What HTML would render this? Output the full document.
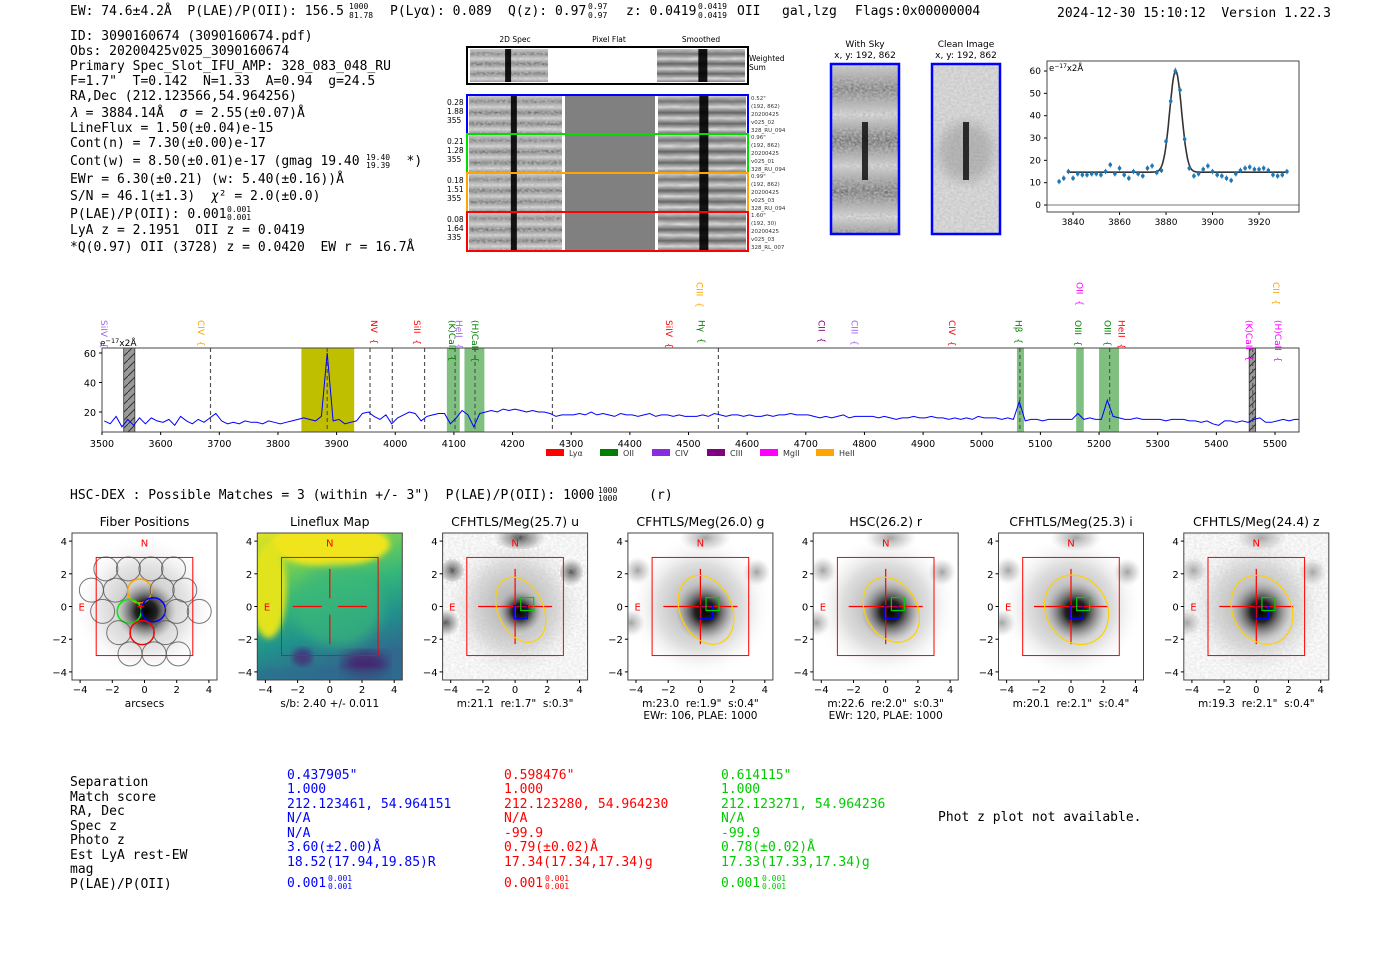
<!DOCTYPE html>
<html><head><meta charset="utf-8"><style>
html,body{margin:0;padding:0;background:#fff;}
svg{display:block;}
.m{font-family:"DejaVu Sans Mono","Liberation Mono",monospace;white-space:pre;}
.s{font-family:"DejaVu Sans","Liberation Sans",sans-serif;}
</style></head><body>
<svg id="fig" xmlns="http://www.w3.org/2000/svg" width="1400" height="953" viewBox="0 0 1400 953">
<defs>
<filter id="noise" x="0" y="0" width="100%" height="100%"><feTurbulence type="fractalNoise" baseFrequency="0.35 0.5" numOctaves="2" seed="3"/><feColorMatrix type="matrix" values="0 0 0 0 0.5  0 0 0 0 0.5  0 0 0 0 0.5  1.6 0 0 0 -0.35"/></filter>
<filter id="noise2" x="0" y="0" width="100%" height="100%"><feTurbulence type="fractalNoise" baseFrequency="0.08 0.25" numOctaves="2" seed="7"/><feColorMatrix type="matrix" values="0 0 0 0 0.1  0 0 0 0 0.1  0 0 0 0 0.1  1.4 0 0 0 -0.3"/></filter>
<filter id="blur3"><feGaussianBlur stdDeviation="3"/></filter>
<filter id="blur6"><feGaussianBlur stdDeviation="6"/></filter>
<radialGradient id="halo"><stop offset="0" stop-color="#888"/><stop offset="0.6" stop-color="#d4d4d4"/><stop offset="1" stop-color="#fff" stop-opacity="0"/></radialGradient>
<radialGradient id="core"><stop offset="0" stop-color="#000"/><stop offset="0.35" stop-color="#222"/><stop offset="0.7" stop-color="#777" stop-opacity="0.6"/><stop offset="1" stop-color="#aaa" stop-opacity="0"/></radialGradient>
<radialGradient id="nb"><stop offset="0" stop-color="#333"/><stop offset="0.6" stop-color="#888" stop-opacity="0.6"/><stop offset="1" stop-color="#bbb" stop-opacity="0"/></radialGradient>
<linearGradient id="bands" x1="0" y1="0" x2="0" y2="1">
<stop offset="0" stop-color="#d8d8d8"/><stop offset="0.15" stop-color="#777"/><stop offset="0.3" stop-color="#e0e0e0"/><stop offset="0.45" stop-color="#666"/><stop offset="0.6" stop-color="#ddd"/><stop offset="0.75" stop-color="#6a6a6a"/><stop offset="0.9" stop-color="#e2e2e2"/><stop offset="1" stop-color="#888"/></linearGradient>
<linearGradient id="vir" x1="0" y1="0" x2="0.3" y2="1"><stop offset="0" stop-color="#e6e41f"/><stop offset="0.25" stop-color="#7ad151"/><stop offset="0.5" stop-color="#35b779"/><stop offset="0.75" stop-color="#21918c"/><stop offset="1" stop-color="#31688e"/></linearGradient>
<pattern id="hatch" width="8" height="8" patternUnits="userSpaceOnUse"><rect width="8" height="8" fill="#999"/><path d="M0,8 L8,0" stroke="#333" stroke-width="1"/></pattern>
<clipPath id="specclip"><rect x="102" y="348" width="1197" height="84"/></clipPath>
</defs>

<g class="m" font-size="13" fill="#000">
<text x="70" y="15">EW: 74.6±4.2Å  P(LAE)/P(OII): 156.5</text>
<text x="349" y="9" font-size="8">1000</text><text x="349" y="18" font-size="8">81.78</text>
<text x="390" y="15">P(Lyα): 0.089</text>
<text x="508" y="15">Q(z): 0.97</text>
<text x="588" y="9" font-size="8">0.97</text><text x="588" y="18" font-size="8">0.97</text>
<text x="626" y="15">z: 0.0419</text>
<text x="698" y="9" font-size="8">0.0419</text><text x="698" y="18" font-size="8">0.0419</text>
<text x="737" y="15">OII</text>
<text x="782" y="15">gal,lzg</text>
<text x="855" y="15">Flags:0x00000004</text>
<text x="1057" y="17">2024-12-30 15:10:12  Version 1.22.3</text>
</g>

<g class="m" font-size="13" fill="#000">
<text x="70" y="40">ID: 3090160674 (3090160674.pdf)</text>
<text x="70" y="55">Obs: 20200425v025_3090160674</text>
<text x="70" y="70">Primary Spec_Slot_IFU_AMP: 328_083_048_RU</text>
<text x="70" y="85">F=1.7"  T=0.142  N=1.33  A=0.94  g=24.5</text>
<text x="70" y="100">RA,Dec (212.123566,54.964256)</text>
<text x="70" y="117"><tspan font-style="italic">λ</tspan> = 3884.14Å  <tspan font-style="italic">σ</tspan> = 2.55(±0.07)Å</text>
<text x="70" y="132">LineFlux = 1.50(±0.04)e-15</text>
<text x="70" y="147">Cont(n) = 7.30(±0.00)e-17</text>
<text x="70" y="165">Cont(w) = 8.50(±0.01)e-17 (gmag 19.40      *)</text>
<text x="366" y="160" font-size="8">19.40</text><text x="366" y="168" font-size="8">19.39</text>
<text x="70" y="183">EWr = 6.30(±0.21) (w: 5.40(±0.16))Å</text>
<text x="70" y="200">S/N = 46.1(±1.3)  <tspan font-style="italic">χ</tspan>² = 2.0(±0.0)</text>
<text x="70" y="218">P(LAE)/P(OII): 0.001</text>
<text x="227" y="212" font-size="8">0.001</text><text x="227" y="220" font-size="8">0.001</text>
<text x="70" y="234">LyA z = 2.1951  OII z = 0.0419</text>
<text x="70" y="251">*Q(0.97) OII (3728) z = 0.0420  EW r = 16.7Å</text>
</g>

<g id="spec2d"></g>
<g id="zoomplot"></g>
<g id="specplot"></g>

<text class="m" x="70" y="499" font-size="13">HSC-DEX : Possible Matches = 3 (within +/- 3")  P(LAE)/P(OII): 1000       (r)</text>
<text class="m" x="598" y="493" font-size="8">1000</text>
<text class="m" x="598" y="501" font-size="8">1000</text>

<g id="panels"></g>

<g class="m" font-size="13">
<g fill="#000">
<text x="70" y="786">Separation</text><text x="70" y="801">Match score</text><text x="70" y="815">RA, Dec</text><text x="70" y="830">Spec z</text><text x="70" y="844">Photo z</text><text x="70" y="859">Est LyA rest-EW</text><text x="70" y="873">mag</text><text x="70" y="888">P(LAE)/P(OII)</text>
</g>
<g fill="#0000ff">
<text x="287" y="779">0.437905"</text><text x="287" y="793">1.000</text><text x="287" y="808">212.123461, 54.964151</text><text x="287" y="822">N/A</text><text x="287" y="837">N/A</text><text x="287" y="851">3.60(±2.00)Å</text><text x="287" y="866">18.52(17.94,19.85)R</text><text x="287" y="887">0.001</text><text x="328" y="881" font-size="8">0.001</text><text x="328" y="889" font-size="8">0.001</text>
</g>
<g fill="#ff0000">
<text x="504" y="779">0.598476"</text><text x="504" y="793">1.000</text><text x="504" y="808">212.123280, 54.964230</text><text x="504" y="822">N/A</text><text x="504" y="837">-99.9</text><text x="504" y="851">0.79(±0.02)Å</text><text x="504" y="866">17.34(17.34,17.34)g</text><text x="504" y="887">0.001</text><text x="545" y="881" font-size="8">0.001</text><text x="545" y="889" font-size="8">0.001</text>
</g>
<g fill="#00cc00">
<text x="721" y="779">0.614115"</text><text x="721" y="793">1.000</text><text x="721" y="808">212.123271, 54.964236</text><text x="721" y="822">N/A</text><text x="721" y="837">-99.9</text><text x="721" y="851">0.78(±0.02)Å</text><text x="721" y="866">17.33(17.33,17.34)g</text><text x="721" y="887">0.001</text><text x="762" y="881" font-size="8">0.001</text><text x="762" y="889" font-size="8">0.001</text>
</g>
<text x="938" y="821" fill="#000">Phot z plot not available.</text>
</g>
</svg>

<script>
// ---------- DATA ----------
const zoomWave = [3834,3836,3838,3840,3842,3844,3846,3848,3850,3852,3854,3856,3858,3860,3862,3864,3866,3868,3870,3872,3874,3876,3878,3880,3882,3884,3886,3888,3890,3892,3894,3896,3898,3900,3902,3904,3906,3908,3910,3912,3914,3916,3918,3920,3922,3924,3926,3928,3930,3932];
const zoomFlux = [10.5,12,15,12,14,13.5,13.5,14,14,13.5,15,18,14,16.5,13.5,12,15,14,13,16.5,17.5,14.5,15.5,28.5,46.5,60,51.5,29.5,16.5,13,14,16,17.5,15,13.5,13,12,11,14,15.5,16.5,17,16,16,16.5,15.5,13.5,13,13.5,15];
const zoomErr = [1.2,1.2,1.2,1.2,1.2,1.2,1.2,1.2,1.2,1.2,1.2,1.2,1.2,1.2,1.2,1.2,1.2,1.2,1.2,1.2,1.2,1.2,1.2,1.3,1.4,1.5,1.4,1.3,1.2,1.2,1.2,1.2,1.2,1.2,1.2,1.2,1.2,1.2,1.2,1.2,1.2,1.2,1.2,1.2,1.2,1.2,1.2,1.2,1.2,1.2];
const fitCenter = 3884.14, fitSigma = 2.55, fitAmp = 45.3, fitCont = 14.7, fitStart = 3838, fitEnd = 3932;
const zoomXTicks = [3840,3860,3880,3900,3920];
const zoomYTicks = [0,10,20,30,40,50,60];

const specStart = 3504, specStep = 10;
const specFlux = [
14,12,17,10,15,11,16,12,16,14, 13,15,11,17,14,12,15,13,16,19,
14,12,13,12,14,13,13,12,14,13, 12,13,14,15,16,15,14,17,60,14,
15,12,13,14,19,20,17,15,18,12, 16,18,20,19,14,17,18,19,19,12,
16,21,18,10,19,20,21,20,22,21, 22,21,20,21,20,20,19,17,18,18,
18,19,18,20,18,19,18,17,19,18, 18,17,18,19,17,18,18,17,18,17,
17,17,18,17,19,18,17,18,18,17, 18,17,17,18,17,18,18,19,18,18,
18,17,16,17,16,17,18,16,17,17, 17,17,16,17,16,15,16,16,17,16,
16,17,16,16,15,16,15,16,15,17, 16,16,16,15,16,15,27,14,15,15,
14,15,15,15,15,15,19,15,16,15, 15,28,17,16,15,15,16,15,15,15,
15,14,15,15,15,14,14,13,14,12, 11,14,14,13,14,13,15,16,13,13,
14,15,14,15,15];
const specXTicks = [3500,3600,3700,3800,3900,4000,4100,4200,4300,4400,4500,4600,4700,4800,4900,5000,5100,5200,5300,5400,5500];
const specYTicks = [20,40,60];
const hatchBands = [[3537,3556],[5456,5467]];
const yellowBand = [3840,3930];
const greenBands = [[4088,4110],[4118,4152],[5060,5072],[5161,5174],[5200,5234]];
const dashedLines = [3685,3884,3957,3995,4050,4102,4136,4268,4551,5065,5218,5462];
const lineLabelWave = [3503,3669,3964,4037,4097,4109,4136,4467,4519,4522,4727,4783,4949,5063,5167,5164,5214,5238,5456,5502,5505];
const lineLabelText = ["SiIV","CIV","NV","SiII","(K)CaII","HeII","(H)CaII","SiIV","CIII","Hγ","CII","CIII","CIV","Hβ","OII","OIII","OIII","HeII","(K)CaII","CII","(H)CaII"];
const lineLabelColor = ["#a066ee","#ffa500","#ff0000","#ff0000","#008000","#a066ee","#008000","#ff0000","#ffa500","#008000","#800080","#a066ee","#ff0000","#008000","#ff00ff","#008000","#008000","#ff0000","#ff00ff","#ffa500","#ff00ff"];
const lineLabelHigh = [0,0,0,0,0,0,0,0,1,0,0,0,0,0,1,0,0,0,0,1,0];
const legendNames = ["Lyα","OII","CIV","CIII","MgII","HeII"];
const legendColors = ["#ff0000","#008000","#8a2be2","#800080","#ff00ff","#ffa500"];

const panelTitles = ["Fiber Positions","Lineflux Map","CFHTLS/Meg(25.7) u","CFHTLS/Meg(26.0) g","HSC(26.2) r","CFHTLS/Meg(25.3) i","CFHTLS/Meg(24.4) z"];
const panelNotes1 = ["arcsecs","s/b: 2.40 +/- 0.011","m:21.1  re:1.7\"  s:0.3\"","m:23.0  re:1.9\"  s:0.4\"","m:22.6  re:2.0\"  s:0.3\"","m:20.1  re:2.1\"  s:0.4\"","m:19.3  re:2.1\"  s:0.4\""];
const panelNotes2 = ["","","","EWr: 106, PLAE: 1000","EWr: 120, PLAE: 1000","",""];
const panelTicks = [-4,-2,0,2,4];
const ellipseA = [0,0,1.4,1.6,1.6,1.9,1.8];
const ellipseB = [0,0,2.1,2.2,2.1,2.2,2.2];
const ellipseRot = [0,0,-25,-25,-30,-30,-30];
const fiberX = [-2.4,-1.0,0.4,1.8, -3.3,-1.8,-0.3,1.1,2.5, -2.6,-0.95,0.55,2.0,3.4, -1.6,-0.15,1.3, -0.9,0.6,2.1];
const fiberY = [2.3,2.3,2.3,2.3, 1.0,1.0,0.95,1.0,1.0, -0.3,-0.3,-0.2,-0.3,-0.3, -1.6,-1.6,-1.6, -2.9,-2.9,-2.9];
const fiberColor = ["","","","", "","","#ffa500","","", "","#00ee00","#0000ff","","", "","#ff0000","", "","",""];

// ---------- helpers ----------
const NS = "http://www.w3.org/2000/svg";
function mk(tag, attrs, parent){ const e=document.createElementNS(NS,tag); for(const k in attrs) e.setAttribute(k,attrs[k]); parent.appendChild(e); return e; }
function txt(str, attrs, parent){ const e=mk('text',attrs,parent); e.textContent=str; return e; }
const fmt = v => (v<0?"\u2212"+Math.abs(v):String(v));

// ---------- 2D spectra ----------
(function(){
  const g=document.getElementById('spec2d');
  const hdr=[["2D Spec",515],["Pixel Flat",609],["Smoothed",701]];
  hdr.forEach(h=>{ const t=txt(h[0],{x:h[1],y:42,'font-size':7.5,'text-anchor':'middle',class:'s'},g);
    
     });
  function cut(x,y,w,h,smooth,parent){
    mk('rect',{x:x,y:y,width:w,height:h,fill:'url(#bands)'},parent);
    if(!smooth) mk('rect',{x:x,y:y,width:w,height:h,fill:'#fff',filter:'url(#noise)'},parent);
    else mk('rect',{x:x,y:y,width:w,height:h,fill:'#fff',opacity:0.25,filter:'url(#noise2)'},parent);
    mk('rect',{x:x+w*(smooth?0.47:0.45),y:y,width:smooth?9:6,height:h,fill:'#000',opacity:0.9},parent);
  }
  const ws=mk('g',{},g);
  
  
  mk('rect',{x:467,y:47,width:281,height:37,fill:'#fff'},ws);
  cut(470,49,78,33,false,ws); cut(657,49,88,33,true,ws);
  mk('rect',{x:467,y:47,width:281,height:37,fill:'none',stroke:'#000','stroke-width':2},ws);
  txt("Weighted",{x:749,y:61,'font-size':7.5,class:'s'},ws); txt("Sum",{x:749,y:70,'font-size':7.5,class:'s'},ws);
  const rows=[["#0000ff",95,["0.28","1.88","355"],["0.52\"","(192, 862)","20200425","v025_02","328_RU_094"]],
              ["#00dd00",134,["0.21","1.28","355"],["0.96\"","(192, 862)","20200425","v025_01","328_RU_094"]],
              ["#ffa500",173,["0.18","1.51","355"],["0.99\"","(192, 862)","20200425","v025_03","328_RU_094"]],
              ["#ff0000",212,["0.08","1.64","335"],["1.60\"","(192, 30)","20200425","v025_03","328_RL_007"]]];
  rows.forEach(r=>{
    const rg=mk('g',{},g);
    
    
    cut(469,r[1]+1,93,37,false,rg);
    mk('rect',{x:565,y:r[1]+1,width:90,height:37,fill:'#808080'},rg);
    cut(658,r[1]+1,88,37,true,rg);
    mk('rect',{x:467,y:r[1],width:281,height:39,fill:'none',stroke:r[0],'stroke-width':2},rg);
    r[2].forEach((s,i)=>txt(s,{x:447,y:r[1]+10+i*9,'font-size':7.5,class:'s'},rg));
    r[3].forEach((s,i)=>txt(s,{x:751,y:r[1]+5+i*8,'font-size':5.5,class:'s',fill:'#333'},rg));
  });
  [["With Sky",865,831,true],["Clean Image",966,932,false]].forEach(p=>{
    const pg=mk('g',{},g);
    
    
    txt(p[0],{x:p[1],y:47,'font-size':9,'text-anchor':'middle',class:'s'},pg);
    txt("x, y: 192, 862",{x:p[1],y:58,'font-size':9,'text-anchor':'middle',class:'s'},pg);
    if(p[3]){ mk('rect',{x:p[2],y:64,width:68,height:170,fill:'url(#bands)'},pg);
      mk('rect',{x:p[2],y:64,width:68,height:170,fill:'#fff',filter:'url(#noise)'},pg); }
    else { mk('rect',{x:p[2],y:64,width:68,height:170,fill:'#ddd'},pg);
      mk('rect',{x:p[2],y:64,width:68,height:170,fill:'#fff',filter:'url(#noise)',opacity:0.7},pg);
      mk('ellipse',{cx:p[2]+34,cy:152,rx:28,ry:30,fill:'#777',opacity:0.35,filter:'url(#blur6)'},pg); }
    mk('rect',{x:p[2]+31,y:122,width:6,height:58,fill:'#111',opacity:0.85},pg);
    mk('rect',{x:p[2],y:64,width:68,height:170,fill:'none',stroke:'#0000ff','stroke-width':2.5},pg);
  });
})();

// ---------- zoom plot ----------
(function(){
  const g=document.getElementById('zoomplot');
  const X0=1047,X1=1299,Y0=61,Y1=212;
  const zx=w=>X0+(w-3828.8)*2.325, zy=v=>205-v*2.233;
  mk('line',{x1:X0,x2:X1,y1:zy(0),y2:zy(0),stroke:'#777','stroke-width':1},g);
  zoomXTicks.forEach(t=>{ mk('line',{x1:zx(t),x2:zx(t),y1:Y1,y2:Y1+3,stroke:'#000'},g);
    const l=txt(String(t),{x:zx(t),y:Y1+13,'font-size':9,'text-anchor':'middle',class:'s'},g);
    
     });
  zoomYTicks.forEach(t=>{ mk('line',{x1:X0-3,x2:X0,y1:zy(t),y2:zy(t),stroke:'#000'},g);
    const l=txt(String(t),{x:X0-6,y:zy(t)+3,'font-size':9,'text-anchor':'end',class:'s'},g);
    
     });
  let d="";
  for(let w=fitStart;w<=fitEnd;w+=0.25){ const v=fitCont+fitAmp*Math.exp(-Math.pow(w-fitCenter,2)/(2*fitSigma*fitSigma)); d+=(d?"L":"M")+zx(w).toFixed(1)+","+zy(v).toFixed(1); }
  const fit=mk('path',{d:d,fill:'none',stroke:'#333','stroke-width':1.6},g);
  
  
  zoomWave.forEach((w,i)=>{
    mk('line',{x1:zx(w),x2:zx(w),y1:zy(zoomFlux[i]-zoomErr[i]),y2:zy(zoomFlux[i]+zoomErr[i]),stroke:'#1f77b4','stroke-width':1},g);
    const p=mk('circle',{cx:zx(w),cy:zy(zoomFlux[i]),r:1.8,fill:'#1f77b4'},g);
    
    
  });
  mk('rect',{x:X0,y:Y0,width:X1-X0,height:Y1-Y0,fill:'none',stroke:'#444','stroke-width':1},g);
  const u=txt("e",{x:X0+2,y:Y0+10,'font-size':8.5,class:'s'},g);
  u.innerHTML='e<tspan dy="-3" font-size="6">−17</tspan><tspan dy="3">x2Å</tspan>';
})();

// ---------- full spectrum ----------
(function(){
  const g=document.getElementById('specplot');
  const X0=102,X1=1299,Y0=348,Y1=432;
  const sx=w=>X0+(w-3500)*0.5865, sy=v=>412-(v-20)*1.475;
  const c=mk('g',{'clip-path':'url(#specclip)'},g);
  const yb=mk('rect',{x:sx(yellowBand[0]),y:Y0,width:sx(yellowBand[1])-sx(yellowBand[0]),height:Y1-Y0,fill:'#bfbf00'},c);
  
  
  greenBands.forEach(b=>{ const r=mk('rect',{x:sx(b[0]),y:Y0,width:sx(b[1])-sx(b[0]),height:Y1-Y0,fill:'#008000',opacity:0.5},c);
    
     });
  hatchBands.forEach(b=>{ const r=mk('rect',{x:sx(b[0]),y:Y0,width:sx(b[1])-sx(b[0]),height:Y1-Y0,fill:'url(#hatch)',stroke:'#333','stroke-width':0.8},c);
    
     });
  dashedLines.forEach(w=>{ const l=mk('line',{x1:sx(w),x2:sx(w),y1:Y0,y2:Y1,stroke:'#555','stroke-width':1.2,'stroke-dasharray':'4,3'},c);
    
     });
  let d="";
  specFlux.forEach((v,i)=>{ const w=specStart+i*specStep; d+=(i?"L":"M")+sx(w).toFixed(1)+","+sy(v).toFixed(1); });
  const sp=mk('path',{d:d,fill:'none',stroke:'#0000ff','stroke-width':1},c);
  
  
  mk('rect',{x:X0,y:Y0,width:X1-X0,height:Y1-Y0,fill:'none',stroke:'#444','stroke-width':1},g);
  specXTicks.forEach(t=>{ mk('line',{x1:sx(t),x2:sx(t),y1:Y1,y2:Y1+3,stroke:'#000'},g);
    const l=txt(String(t),{x:sx(t),y:Y1+15,'font-size':9.5,'text-anchor':'middle',class:'s'},g);
    
     });
  specYTicks.forEach(t=>{ mk('line',{x1:X0-3,x2:X0,y1:sy(t),y2:sy(t),stroke:'#000'},g);
    const l=txt(String(t),{x:X0-6,y:sy(t)+4,'font-size':9.5,'text-anchor':'end',class:'s'},g);
    
     });
  const u=txt("",{x:100,y:346,'font-size':9,class:'s'},g);
  u.innerHTML='e<tspan dy="-3" font-size="6.5">−17</tspan><tspan dy="3">x2Å</tspan>';
  lineLabelWave.forEach((w,i)=>{
    const x=sx(w), top=lineLabelHigh[i]?282:320;
    const lab=txt(lineLabelText[i]+"  {",{x:0,y:0,'font-size':9,class:'s',fill:lineLabelColor[i],transform:`translate(${x-3},${top}) rotate(90)`},g);
    
    
  });
  const lx=[546,600,652,707,760,816];
  legendNames.forEach((n,i)=>{
    const r=mk('rect',{x:lx[i],y:449,width:18,height:7,fill:legendColors[i]},g);
    
    
    const t=txt(n,{x:lx[i]+23,y:456,'font-size':8,class:'s',fill:'#333'},g);
    
    
  });
})();

// ---------- image panels ----------
(function(){
  const g=document.getElementById('panels');
  panelTitles.forEach((title,i)=>{
    const L=72+i*185.3, T=533, W=145, H=147;
    const px=u=>L+W/2+u*16.1, py=v=>T+H/2-v*16.35;
    const pg=mk('g',{},g);
    
    
    const cp=mk('clipPath',{id:'pc'+i},pg); mk('rect',{x:L,y:T,width:W,height:H},cp);
    const im=mk('g',{'clip-path':`url(#pc${i})`},pg);
    if(i===1){
      mk('rect',{x:L,y:T,width:W,height:H,fill:'url(#vir)'},im);
      mk('ellipse',{cx:px(0),cy:py(3.8),rx:60,ry:22,fill:'#f0e51f',filter:'url(#blur3)'},im);
      mk('ellipse',{cx:px(-3.8),cy:py(1),rx:18,ry:48,fill:'#e1e31f',filter:'url(#blur3)'},im);
      mk('ellipse',{cx:px(0.5),cy:py(0),rx:45,ry:40,fill:'#3bb77a',opacity:0.7,filter:'url(#blur6)'},im);
      mk('ellipse',{cx:px(2.2),cy:py(-3.6),rx:22,ry:14,fill:'#46206e',opacity:0.9,filter:'url(#blur6)'},im);
      mk('ellipse',{cx:px(-1.7),cy:py(-3.1),rx:10,ry:9,fill:'#472d7b',opacity:0.8,filter:'url(#blur3)'},im);
      mk('rect',{x:L,y:py(-3.8),width:W,height:20,fill:'#2c6f8e',opacity:0.5,filter:'url(#blur3)'},im);
    } else {
      mk('rect',{x:L,y:T,width:W,height:H,fill:'#fff'},im);
      mk('circle',{cx:px(0),cy:py(0),r:72,fill:'url(#halo)',opacity:i===0?0.6:0.75},im);
      if(i>=2){
        const nbx=[-3.9,3.5,0.3,-4.3], nby=[2.2,2.1,4.2,-1.0];
        nbx.forEach((x,k)=>mk('ellipse',{cx:px(x),cy:py(nby[k]),rx:k===2?26:14,ry:14,fill:'url(#nb)',opacity:i===2?0.9:0.45},im));
        if(i===2||i===6) mk('rect',{x:L,y:T,width:W,height:H,fill:'#fff',opacity:0.35,filter:'url(#noise)'},im);
      }
      mk('circle',{cx:px(i===0?0.1:0.3),cy:py(-0.3),r:i===2?22:30,fill:'url(#core)'},im);
      if(i===2){
        [[-3.9,2.2,12,12],[3.5,2.1,12,15],[0.3,4.2,28,12],[-4.3,-1.0,14,14]].forEach(n=>
          mk('ellipse',{cx:px(n[0]),cy:py(n[1]),rx:n[2],ry:n[3],fill:'none',stroke:'#fff','stroke-width':1,'stroke-dasharray':'3,2'},im));
      }
    }
    if(i===0){
      fiberX.forEach((x,k)=>{ const c=mk('circle',{cx:px(x),cy:py(fiberY[k]),r:12,fill:'none',stroke:fiberColor[k]||'#555','stroke-width':fiberColor[k]?1.5:1,opacity:fiberColor[k]?1:0.8},im);
        
         });
    }
    mk('rect',{x:px(-3),y:py(3),width:px(3)-px(-3),height:py(-3)-py(3),fill:'none',stroke:'#ff0000','stroke-width':1},im);
    if(i===0){ mk('path',{d:`M${px(-0.45)},${py(0)}h7M${px(-0.2)},${py(0.25)}v7`,stroke:'#ff0000','stroke-width':1.2},im); }
    else { mk('path',{d:`M${px(-2.3)},${py(0)}H${px(-0.5)}M${px(0.5)},${py(0)}H${px(2.3)}M${px(0)},${py(2.3)}V${py(0.5)}M${px(0)},${py(-0.5)}V${py(-2.3)}`,stroke:'#ff0000','stroke-width':1.2,fill:'none'},im);
      if(i>=2) mk('path',{d:`M${px(-0.5)},${py(0)}H${px(0.5)}M${px(0)},${py(0.5)}V${py(-0.5)}`,stroke:'#ff0000','stroke-width':1.2},im); }
    if(i>=2){
      const e=mk('ellipse',{cx:px(0.35),cy:py(-0.2),rx:ellipseA[i]*16.1,ry:ellipseB[i]*16.35,fill:'none',stroke:'#ffd000','stroke-width':1.2,transform:`rotate(${ellipseRot[i]} ${px(0.35)} ${py(-0.2)})`},im);
      
      
      mk('rect',{x:px(-0.05),y:py(0.05),width:13,height:13,fill:'none',stroke:'#0000ff','stroke-width':1.2},im);
      mk('rect',{x:px(0.35),y:py(0.55),width:13,height:13,fill:'none',stroke:'#00cc00','stroke-width':1.2},im);
    }
    txt("N",{x:px(0),y:py(3.9)+4,'font-size':10,fill:'#ff0000','text-anchor':'middle',class:'s'},im);
    txt("E",{x:px(-3.9),y:py(0)+4,'font-size':10,fill:'#ff0000','text-anchor':'middle',class:'s'},im);
    mk('rect',{x:L,y:T,width:W,height:H,fill:'none',stroke:'#444','stroke-width':1},pg);
    panelTicks.forEach(t=>{
      mk('line',{x1:px(t),x2:px(t),y1:T+H,y2:T+H+3,stroke:'#000'},pg);
      const lx=txt(fmt(t),{x:px(t),y:T+H+13,'font-size':10,'text-anchor':'middle',class:'s'},pg);
      
      
      mk('line',{x1:L-3,x2:L,y1:py(t),y2:py(t),stroke:'#000'},pg);
      const ly=txt(fmt(t),{x:L-5,y:py(t)+4,'font-size':10,'text-anchor':'end',class:'s'},pg);
      
      
    });
    const tt=txt(title,{x:L+W/2,y:526,'font-size':12.5,'text-anchor':'middle',class:'s'},pg);
    
    
    const n1=txt(panelNotes1[i],{x:L+W/2,y:707,'font-size':10.5,'text-anchor':'middle',class:'s'},pg);
    
    
    if(panelNotes2[i]){ const n2=txt(panelNotes2[i],{x:L+W/2,y:719,'font-size':10.5,'text-anchor':'middle',class:'s'},pg);
      
       }
  });
})();

// ---------- preserve runs of spaces (renderer collapses whitespace) ----------
(function(){
  const walker=document.createTreeWalker(document.getElementById('fig'),NodeFilter.SHOW_TEXT);
  const nodes=[]; let n; while((n=walker.nextNode())) nodes.push(n);
  nodes.forEach(t=>{ if(t.parentNode && /^(text|tspan)$/i.test(t.parentNode.nodeName) && t.nodeValue.trim()!=="") t.nodeValue=t.nodeValue.replace(/ /g,'\u00a0'); });
})();
</script>
</body></html>
